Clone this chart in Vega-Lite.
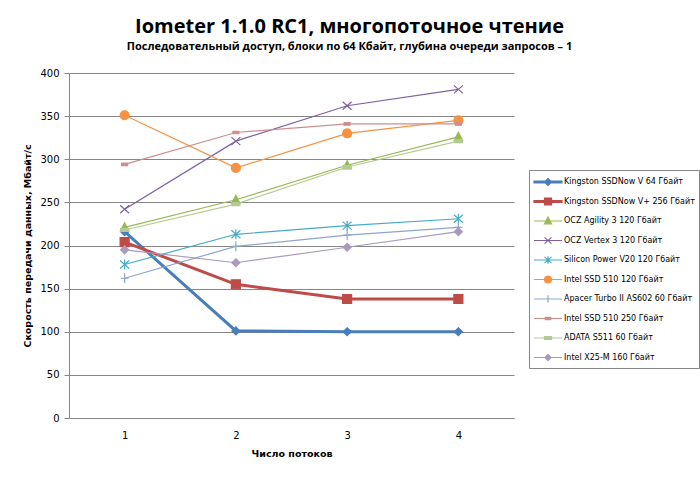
{
  "$schema": "https://vega.github.io/schema/vega-lite/v6.json",
  "autosize": "none",
  "width": 445,
  "height": 345,
  "padding": {"left": 69, "top": 73, "right": 186, "bottom": 63},
  "background": "white",
  "title": {
    "text": "Iometer 1.1.0 RC1, многопоточное чтение",
    "subtitle": "Последовательный доступ, блоки по 64 Кбайт, глубина очереди запросов – 1",
    "anchor": "middle",
    "dx": 58,
    "offset": 16,
    "font": "Open Sans",
    "fontSize": 20,
    "fontWeight": "bold",
    "color": "black",
    "subtitleFont": "Open Sans",
    "subtitleFontSize": 11,
    "subtitleFontWeight": "bold",
    "subtitleColor": "black",
    "subtitlePadding": 4
  },
  "config": {
    "font": "DejaVu Sans",
    "view": {"stroke": null}
  },
  "data": {
    "values": [
      {"series": "Kingston SSDNow V 64 Гбайт", "threads": 1, "value": 216},
      {"series": "Kingston SSDNow V 64 Гбайт", "threads": 2, "value": 101},
      {"series": "Kingston SSDNow V 64 Гбайт", "threads": 3, "value": 100},
      {"series": "Kingston SSDNow V 64 Гбайт", "threads": 4, "value": 100},
      {"series": "Kingston SSDNow V+ 256 Гбайт", "threads": 1, "value": 204},
      {"series": "Kingston SSDNow V+ 256 Гбайт", "threads": 2, "value": 155},
      {"series": "Kingston SSDNow V+ 256 Гбайт", "threads": 3, "value": 138},
      {"series": "Kingston SSDNow V+ 256 Гбайт", "threads": 4, "value": 138},
      {"series": "OCZ Agility 3 120 Гбайт", "threads": 1, "value": 221},
      {"series": "OCZ Agility 3 120 Гбайт", "threads": 2, "value": 253},
      {"series": "OCZ Agility 3 120 Гбайт", "threads": 3, "value": 293},
      {"series": "OCZ Agility 3 120 Гбайт", "threads": 4, "value": 326},
      {"series": "OCZ Vertex 3 120 Гбайт", "threads": 1, "value": 242},
      {"series": "OCZ Vertex 3 120 Гбайт", "threads": 2, "value": 321},
      {"series": "OCZ Vertex 3 120 Гбайт", "threads": 3, "value": 362},
      {"series": "OCZ Vertex 3 120 Гбайт", "threads": 4, "value": 381},
      {"series": "Silicon Power V20 120 Гбайт", "threads": 1, "value": 178},
      {"series": "Silicon Power V20 120 Гбайт", "threads": 2, "value": 213},
      {"series": "Silicon Power V20 120 Гбайт", "threads": 3, "value": 223},
      {"series": "Silicon Power V20 120 Гбайт", "threads": 4, "value": 231},
      {"series": "Intel SSD 510 120 Гбайт", "threads": 1, "value": 351},
      {"series": "Intel SSD 510 120 Гбайт", "threads": 2, "value": 290},
      {"series": "Intel SSD 510 120 Гбайт", "threads": 3, "value": 330},
      {"series": "Intel SSD 510 120 Гбайт", "threads": 4, "value": 345},
      {"series": "Apacer Turbo II AS602 60 Гбайт", "threads": 1, "value": 162},
      {"series": "Apacer Turbo II AS602 60 Гбайт", "threads": 2, "value": 199},
      {"series": "Apacer Turbo II AS602 60 Гбайт", "threads": 3, "value": 212},
      {"series": "Apacer Turbo II AS602 60 Гбайт", "threads": 4, "value": 221},
      {"series": "Intel SSD 510 250 Гбайт", "threads": 1, "value": 294},
      {"series": "Intel SSD 510 250 Гбайт", "threads": 2, "value": 331},
      {"series": "Intel SSD 510 250 Гбайт", "threads": 3, "value": 341},
      {"series": "Intel SSD 510 250 Гбайт", "threads": 4, "value": 341},
      {"series": "ADATA S511 60 Гбайт", "threads": 1, "value": 218},
      {"series": "ADATA S511 60 Гбайт", "threads": 2, "value": 248},
      {"series": "ADATA S511 60 Гбайт", "threads": 3, "value": 291},
      {"series": "ADATA S511 60 Гбайт", "threads": 4, "value": 321},
      {"series": "Intel X25-M 160 Гбайт", "threads": 1, "value": 195},
      {"series": "Intel X25-M 160 Гбайт", "threads": 2, "value": 180},
      {"series": "Intel X25-M 160 Гбайт", "threads": 3, "value": 198},
      {"series": "Intel X25-M 160 Гбайт", "threads": 4, "value": 216}
    ]
  },
  "encoding": {
    "x": {
      "field": "threads",
      "type": "ordinal",
      "scale": {"type": "point", "padding": 0.5},
      "axis": {
        "title": "Число потоков",
        "labelAngle": 0,
        "ticks": false,
        "domainColor": "#868686",
        "labelColor": "black",
        "labelFont": "DejaVu Sans",
        "labelFontSize": 10,
        "labelPadding": 12,
        "titleFont": "DejaVu Sans",
        "titleFontSize": 9.5,
        "titleFontWeight": "bold",
        "titleColor": "black",
        "titlePadding": 8
      }
    },
    "y": {
      "field": "value",
      "type": "quantitative",
      "scale": {"domain": [0, 400], "nice": false},
      "axis": {
        "title": "Скорость передачи данных, Мбайт/с",
        "values": [0, 50, 100, 150, 200, 250, 300, 350, 400],
        "gridColor": "#868686",
        "gridWidth": 1,
        "domainColor": "#868686",
        "tickColor": "#868686",
        "tickSize": 5,
        "labelPadding": 5,
        "labelColor": "black",
        "labelFont": "DejaVu Sans",
        "labelFontSize": 10,
        "titleFont": "DejaVu Sans",
        "titleFontSize": 9.5,
        "titleFontWeight": "bold",
        "titleColor": "black",
        "titlePadding": 7
      }
    },
    "color": {
      "field": "series",
      "type": "nominal",
      "scale": {
        "domain": ["Kingston SSDNow V 64 Гбайт", "Kingston SSDNow V+ 256 Гбайт", "OCZ Agility 3 120 Гбайт", "OCZ Vertex 3 120 Гбайт", "Silicon Power V20 120 Гбайт", "Intel SSD 510 120 Гбайт", "Apacer Turbo II AS602 60 Гбайт", "Intel SSD 510 250 Гбайт", "ADATA S511 60 Гбайт", "Intel X25-M 160 Гбайт"],
        "range": ["#4A7EBB", "#BE4B48", "#98B954", "#7D60A0", "#46AAC5", "#F69240", "#8EA5CB", "#CE8E8D", "#B5CA92", "#A99BBD"]
      },
      "legend": {
        "orient": "none",
        "legendX": 460,
        "legendY": 97,
        "title": null,
        "symbolSize": 196,
        "labelOffset": 15,
        "padding": 4,
        "rowPadding": 4.5,
        "strokeColor": "#868686",
        "fillColor": "white",
        "labelFont": "DejaVu Sans",
        "labelFontSize": 8,
        "labelColor": "black",
        "labelLimit": 250,
        "encode": {
          "symbols": {
            "update": {
              "shape": {"signal": "['M1,-0.55M1,0.55M-1,-0.13H3V0.13H-1ZM1,-0.5L1.5,0L1,0.5L0.5,0Z','M1,-0.55M1,0.55M-1,-0.13H3V0.13H-1ZM0.5,-0.5H1.5V0.5H0.5Z','M1,-0.55M1,0.55M-1,0H3M1,-0.55L1.5,0.4H0.5Z','M1,-0.55M1,0.55M-1,0H3M0.5,-0.45L1.5,0.45M0.5,0.45L1.5,-0.45','M1,-0.55M1,0.55M-1,0H3M0.5,-0.45L1.5,0.45M0.5,0.45L1.5,-0.45M1,-0.55V0.55','M1,-0.55M1,0.55M-1,0H3M0.5,0A0.5,0.5,0,1,0,1.5,0A0.5,0.5,0,1,0,0.5,0Z','M1,-0.55M1,0.55M-1,0H3M1,-0.55V0.55','M1,-0.55M1,0.55M-1,0H3M0.6,-0.15H1.4V0.15H0.6Z','M1,-0.55M1,0.55M-1,0H3M0.5,-0.2H1.5V0.2H0.5Z','M1,-0.55M1,0.55M-1,0H3M1,-0.45L1.45,0L1,0.45L0.55,0Z'][indexof(domain('color'), datum.value)]"},
              "strokeWidth": {"value": 1.2},
              "fill": {"signal": "scale('color', datum.value)"},
              "stroke": {"signal": "scale('color', datum.value)"},
              "opacity": {"value": 1}
            }
          }
        }
      }
    }
  },
  "layer": [
    {
      "transform": [{"filter": {"field": "series", "oneOf": ["Kingston SSDNow V 64 Гбайт", "Kingston SSDNow V+ 256 Гбайт"]}}],
      "mark": {"type": "line", "strokeWidth": 3}
    },
    {
      "transform": [{"filter": {"not": {"field": "series", "oneOf": ["Kingston SSDNow V 64 Гбайт", "Kingston SSDNow V+ 256 Гбайт"]}}}],
      "mark": {"type": "line", "strokeWidth": 1.2}
    },
    {
      "transform": [{"filter": {"field": "series", "equal": "Kingston SSDNow V 64 Гбайт"}}],
      "mark": {"type": "point", "filled": true, "size": 100, "opacity": 1, "strokeWidth": 1.2, "stroke": "#4A7EBB", "shape": "M0,-0.8L0.8,0L0,0.8L-0.8,0Z"}
    },
    {
      "transform": [{"filter": {"field": "series", "equal": "Kingston SSDNow V+ 256 Гбайт"}}],
      "mark": {"type": "point", "filled": true, "size": 100, "opacity": 1, "strokeWidth": 1.2, "stroke": "#BE4B48", "shape": "M-0.9,-0.9H0.9V0.9H-0.9Z"}
    },
    {
      "transform": [{"filter": {"field": "series", "equal": "OCZ Agility 3 120 Гбайт"}}],
      "mark": {"type": "point", "filled": true, "size": 100, "opacity": 1, "strokeWidth": 1.2, "stroke": "#98B954", "shape": "M0,-0.9L0.85,0.7H-0.85Z"}
    },
    {
      "transform": [{"filter": {"field": "series", "equal": "OCZ Vertex 3 120 Гбайт"}}],
      "mark": {"type": "point", "filled": true, "size": 100, "opacity": 1, "strokeWidth": 1.2, "stroke": "#7D60A0", "shape": "M-0.9,-0.8L0.9,0.8M-0.9,0.8L0.9,-0.8"}
    },
    {
      "transform": [{"filter": {"field": "series", "equal": "Silicon Power V20 120 Гбайт"}}],
      "mark": {"type": "point", "filled": true, "size": 100, "opacity": 1, "strokeWidth": 1.2, "stroke": "#46AAC5", "shape": "M-0.9,-0.8L0.9,0.8M-0.9,0.8L0.9,-0.8M0,-1V1"}
    },
    {
      "transform": [{"filter": {"field": "series", "equal": "Intel SSD 510 120 Гбайт"}}],
      "mark": {"type": "point", "filled": true, "size": 100, "opacity": 1, "strokeWidth": 1.2, "stroke": "#F69240", "shape": "M-0.9,0A0.9,0.9,0,1,0,0.9,0A0.9,0.9,0,1,0,-0.9,0Z"}
    },
    {
      "transform": [{"filter": {"field": "series", "equal": "Apacer Turbo II AS602 60 Гбайт"}}],
      "mark": {"type": "point", "filled": true, "size": 100, "opacity": 1, "strokeWidth": 1.2, "stroke": "#8EA5CB", "shape": "M0,-1V1M-0.8,0H0.8"}
    },
    {
      "transform": [{"filter": {"field": "series", "equal": "Intel SSD 510 250 Гбайт"}}],
      "mark": {"type": "point", "filled": true, "size": 100, "opacity": 1, "strokeWidth": 1.2, "stroke": "#CE8E8D", "shape": "M-0.6,-0.25H0.6V0.25H-0.6Z"}
    },
    {
      "transform": [{"filter": {"field": "series", "equal": "ADATA S511 60 Гбайт"}}],
      "mark": {"type": "point", "filled": true, "size": 100, "opacity": 1, "strokeWidth": 1.2, "stroke": "#B5CA92", "shape": "M-0.8,-0.3H0.8V0.3H-0.8Z"}
    },
    {
      "transform": [{"filter": {"field": "series", "equal": "Intel X25-M 160 Гбайт"}}],
      "mark": {"type": "point", "filled": true, "size": 100, "opacity": 1, "strokeWidth": 1.2, "stroke": "#A99BBD", "shape": "M0,-0.8L0.8,0L0,0.8L-0.8,0Z"}
    }
  ]
}
